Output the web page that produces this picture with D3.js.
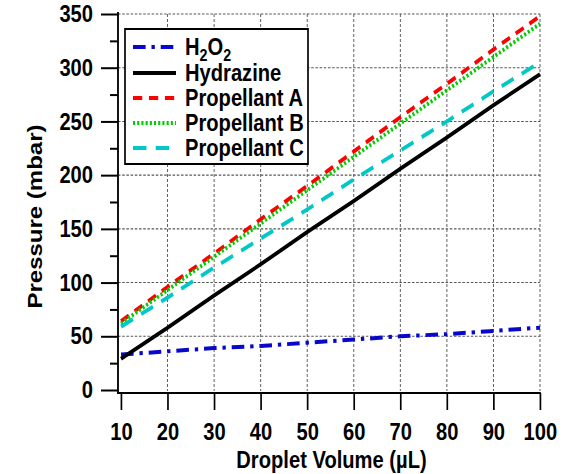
<!DOCTYPE html>
<html>
<head>
<meta charset="utf-8">
<script src="https://cdn.jsdelivr.net/npm/d3@7"></script>
<style>
  html, body { margin: 0; padding: 0; background: #fff; }
  svg { display: block; }
  text { font-family: "Liberation Sans", Arial, sans-serif; font-weight: bold; fill: #000; }
</style>
</head>
<body>
<svg id="chart" width="569" height="474"></svg>
<script>
// ---- data ----
const volumes   = [10, 20, 30, 40, 50, 60, 70, 80, 90, 100];
const h2o2      = [33, 36, 39, 41, 44, 47, 50, 52, 55, 58];
const hydrazine = [29, 58, 88, 117, 147, 176, 206, 235, 265, 294];
const propA     = [64, 96, 127, 159, 190, 222, 254, 285, 317, 348];
const propB     = [62, 93, 124, 155, 186, 217, 248, 279, 310, 341];
const propC     = [59, 86, 114, 141, 168, 196, 223, 250, 278, 305];
const seriesNames = ["H2O2", "Hydrazine", "Propellant A", "Propellant B", "Propellant C"];
const xTicks = [10, 20, 30, 40, 50, 60, 70, 80, 90, 100];
const yTicks = [0, 50, 100, 150, 200, 250, 300, 350];
const yMinorTicks = [25, 75, 125, 175, 225, 275, 325];
const xTitle = "Droplet Volume (µL)";
const yTitle = "Pressure (mbar)";

// ---- layout ----
const sx = 0.84;            // horizontal compression of the reference
const X = a => a / sx;      // actual px -> drawing units
const svg = d3.select("#chart");
const root = svg.append("g").attr("transform", `scale(${sx},1)`);

const x = d3.scaleLinear().domain([10, 100]).range([X(121), X(540)]);
const y = d3.scaleLinear().domain([0, 350]).range([390, 14]);

// grid
const gridStyle = g => g.attr("stroke", "#555").attr("stroke-width", 1.1).attr("stroke-dasharray", "3,2");
root.append("g").call(gridStyle).selectAll("line")
  .data(xTicks.slice(1)).join("line")
  .attr("x1", d => x(d)).attr("x2", d => x(d))
  .attr("y1", y(350)).attr("y2", 391);
root.append("g").call(gridStyle).selectAll("line")
  .data(yTicks.slice(1)).join("line")
  .attr("x1", X(118)).attr("x2", x(100))
  .attr("y1", d => y(d)).attr("y2", d => y(d));

// series
const series = [
  { name: seriesNames[0], values: h2o2, color: "#0808cc", dash: "15,7,4,7", width: 4 },
  { name: seriesNames[1], values: hydrazine, color: "#000000", dash: null, width: 4 },
  { name: seriesNames[2], values: propA, color: "#ff0000", dash: "11,8", width: 4 },
  { name: seriesNames[3], values: propB, color: "#00cc00", dash: "2.5,2.5", width: 4 },
  { name: seriesNames[4], values: propC, color: "#00c8c8", dash: "16,11", width: 4 },
];
const line = d3.line().x((d, i) => x(volumes[i])).y(d => y(d));
root.append("g").selectAll("path").data(series).join("path")
  .attr("d", d => line(d.values))
  .attr("fill", "none")
  .attr("stroke", d => d.color)
  .attr("stroke-width", d => d.width)
  .attr("stroke-dasharray", d => d.dash);

// axes
const yAxis = d3.axisLeft(y).tickValues(yTicks).tickSize(X(17)).tickPadding(X(8)).tickFormat(d3.format("d"));
const yMinor = d3.axisLeft(y).tickValues(yMinorTicks).tickSize(X(8)).tickFormat("");
const xAxis = d3.axisBottom(x).tickValues(xTicks).tickSize(17).tickPadding(13).tickFormat(d3.format("d"));

function styleAxis(g) {
  g.select(".domain").remove();
  g.selectAll("line").attr("stroke", "#000").attr("stroke-width", 2);
  g.selectAll("text").attr("font-size", 24).attr("font-family", null).attr("fill", "#000");
}
root.append("g").attr("transform", `translate(${X(118)},0)`).call(yAxis).call(styleAxis);
root.append("g").attr("transform", `translate(${X(118)},0)`).call(yMinor).call(styleAxis);
root.append("g").attr("transform", `translate(0,393)`).call(xAxis).call(styleAxis);

// spines
root.append("line").attr("x1", X(118)).attr("x2", X(118)).attr("y1", 12).attr("y2", 394)
  .attr("stroke", "#000").attr("stroke-width", 2.2);
root.append("line").attr("x1", X(117)).attr("x2", x(100) + 1).attr("y1", 393).attr("y2", 393)
  .attr("stroke", "#000").attr("stroke-width", 2);

// titles
root.append("text").attr("x", X(331.5)).attr("y", 468).attr("text-anchor", "middle")
  .attr("font-size", 24).text(xTitle);
root.append("text").attr("transform", `translate(${X(42)},216.5) rotate(-90)`)
  .attr("text-anchor", "middle").attr("font-size", 24).text(yTitle);

// legend
const leg = root.append("g");
leg.append("rect").attr("x", X(125)).attr("y", 29).attr("width", X(308) - X(125)).attr("height", 135)
  .attr("fill", "#fff").attr("stroke", "#000").attr("stroke-width", 2);
const baselines = [55, 81, 106, 131, 156];
series.forEach((s, i) => {
  const b = baselines[i];
  leg.append("line").attr("x1", X(133)).attr("x2", X(176)).attr("y1", b - 8).attr("y2", b - 8)
    .attr("stroke", s.color).attr("stroke-width", s.width).attr("stroke-dasharray", s.dash);
  const t = leg.append("text").attr("x", X(185)).attr("y", b).attr("font-size", 24);
  if (s.name === "H2O2") {
    t.append("tspan").text("H");
    t.append("tspan").attr("font-size", 17).attr("baseline-shift", "-6").text("2");
    t.append("tspan").text("O");
    t.append("tspan").attr("font-size", 17).attr("baseline-shift", "-6").text("2");
  } else {
    t.text(s.name);
  }
});
</script>
</body>
</html>
